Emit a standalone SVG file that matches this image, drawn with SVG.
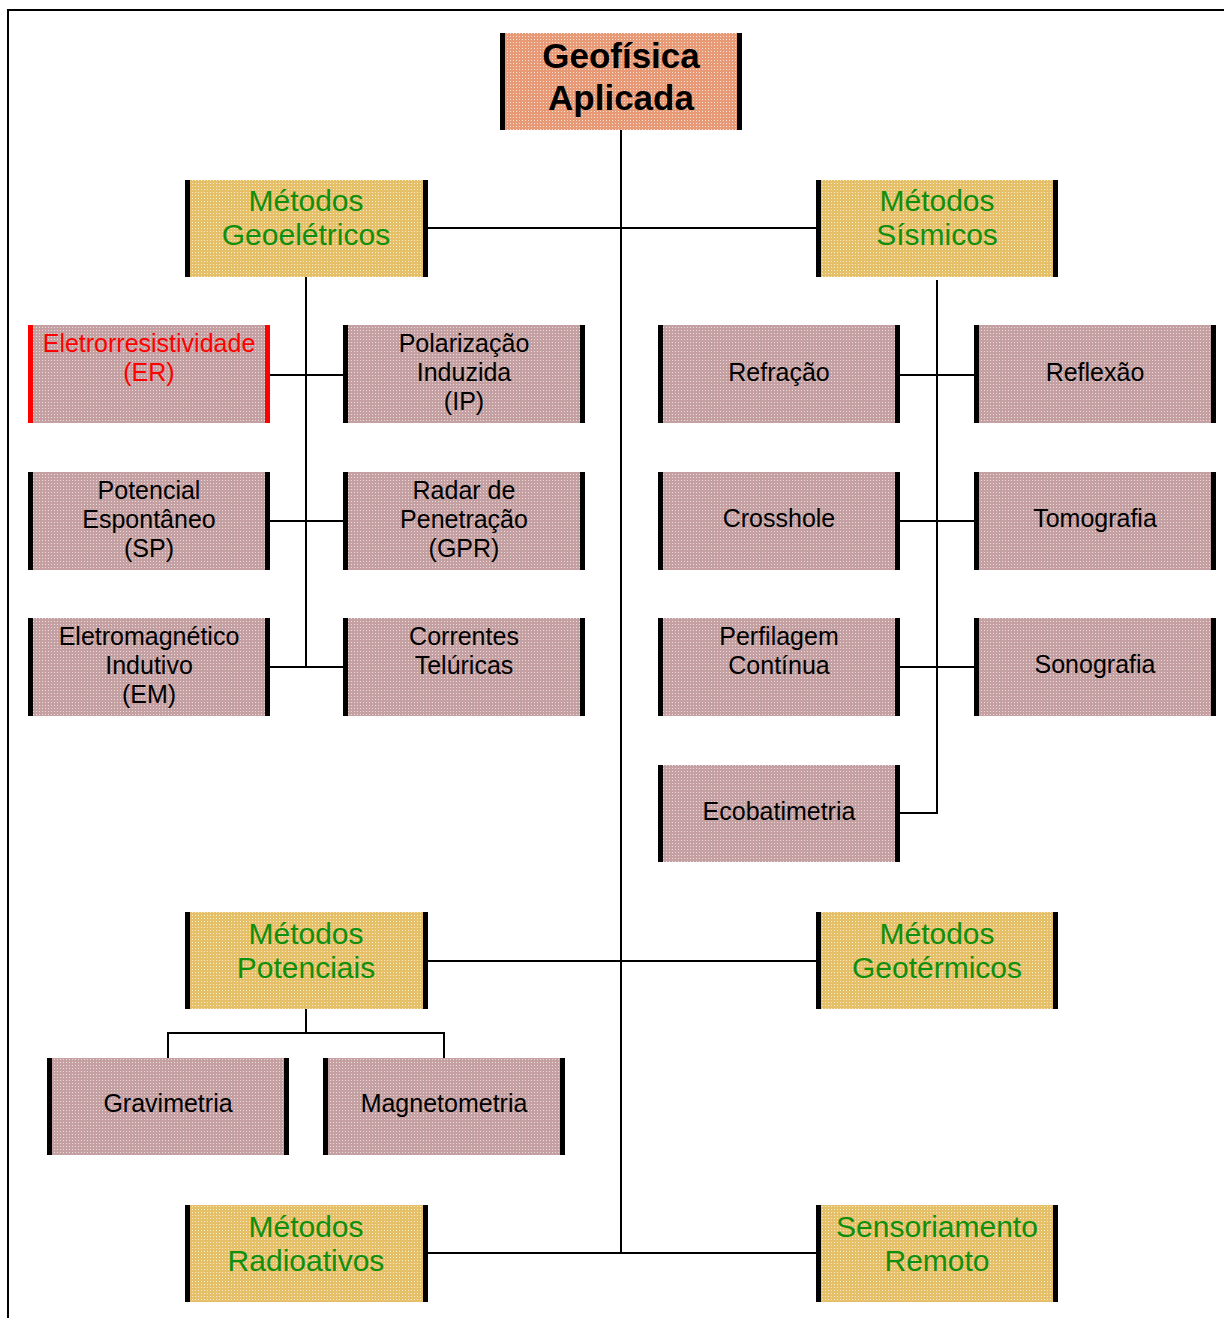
<svg xmlns="http://www.w3.org/2000/svg" width="1224" height="1318" viewBox="0 0 1224 1318">
<defs>
<pattern id="pPink" width="3" height="3" patternUnits="userSpaceOnUse">
<rect width="3" height="3" fill="#c4a0a2"/>
<rect width="1" height="1" fill="#ebdcdc"/>
</pattern>
<pattern id="pYel" width="3" height="3" patternUnits="userSpaceOnUse">
<rect width="3" height="3" fill="#e6c068"/>
<rect width="1" height="1" fill="#f7eccc"/>
</pattern>
<pattern id="pSal" width="3" height="3" patternUnits="userSpaceOnUse">
<rect width="3" height="3" fill="#e89a76"/>
<rect width="1" height="1" fill="#fae2d6"/>
</pattern>
</defs>
<style>
.pink{fill:url(#pPink)}
.yel{fill:url(#pYel)}
.sal{fill:url(#pSal)}
.bar{fill:#000}
.rbar{fill:#ff0000}
.t{font-family:"Liberation Sans",Arial,sans-serif;font-size:25px;fill:#000;text-anchor:middle}
.tr{font-family:"Liberation Sans",Arial,sans-serif;font-size:25px;fill:#ff0000;text-anchor:middle}
.tg{font-family:"Liberation Sans",Arial,sans-serif;font-size:30px;fill:#0f8f0f;text-anchor:middle}
.tb{font-family:"Liberation Sans",Arial,sans-serif;font-size:35px;font-weight:bold;fill:#000;text-anchor:middle}
.ln{stroke:#000;stroke-width:2;fill:none}
</style>
<rect width="1224" height="1318" fill="#fff"/>
<path d="M8,1318 V10 H1224" stroke="#000" stroke-width="2" fill="none"/>

<g id="connectors">
<path class="ln" d="M621,130 V1253"/>
<path class="ln" d="M428,228 H816"/>
<path class="ln" d="M428,961 H816"/>
<path class="ln" d="M428,1253 H816"/>
<path class="ln" d="M306,277 V667"/>
<path class="ln" d="M270,375 H343 M270,521 H343 M270,667 H343"/>
<path class="ln" d="M937,280 V813 H900"/>
<path class="ln" d="M900,375 H974 M900,521 H974 M900,667 H974"/>
<path class="ln" d="M306,1009 V1033 M168,1058 V1033 H444 V1058"/>
</g>

<g id="geofisica">
<rect class="sal" x="500" y="33" width="242" height="97"/>
<rect class="bar" x="500" y="33" width="5" height="97"/>
<rect class="bar" x="737" y="33" width="5" height="97"/>
<text class="tb" x="621" y="68">Geofísica</text>
<text class="tb" x="621" y="110">Aplicada</text>
</g>

<g id="geoeletricos">
<rect class="yel" x="185" y="180" width="243" height="97"/>
<rect class="bar" x="185" y="180" width="5" height="97"/>
<rect class="bar" x="423" y="180" width="5" height="97"/>
<text class="tg" x="306" y="211">Métodos</text>
<text class="tg" x="306" y="245">Geoelétricos</text>
</g>

<g id="sismicos">
<rect class="yel" x="816" y="180" width="242" height="97"/>
<rect class="bar" x="816" y="180" width="5" height="97"/>
<rect class="bar" x="1053" y="180" width="5" height="97"/>
<text class="tg" x="937" y="211">Métodos</text>
<text class="tg" x="937" y="245">Sísmicos</text>
</g>

<g id="er">
<rect class="pink" x="28" y="325" width="242" height="98"/>
<rect class="rbar" x="28" y="325" width="5" height="98"/>
<rect class="rbar" x="265" y="325" width="5" height="98"/>
<text class="tr" x="149" y="352">Eletrorresistividade</text>
<text class="tr" x="149" y="381">(ER)</text>
</g>

<g id="ip">
<rect class="pink" x="343" y="325" width="242" height="98"/>
<rect class="bar" x="343" y="325" width="5" height="98"/>
<rect class="bar" x="580" y="325" width="5" height="98"/>
<text class="t" x="464" y="352">Polarização</text>
<text class="t" x="464" y="381">Induzida</text>
<text class="t" x="464" y="410">(IP)</text>
</g>

<g id="sp">
<rect class="pink" x="28" y="472" width="242" height="98"/>
<rect class="bar" x="28" y="472" width="5" height="98"/>
<rect class="bar" x="265" y="472" width="5" height="98"/>
<text class="t" x="149" y="499">Potencial</text>
<text class="t" x="149" y="528">Espontâneo</text>
<text class="t" x="149" y="557">(SP)</text>
</g>

<g id="gpr">
<rect class="pink" x="343" y="472" width="242" height="98"/>
<rect class="bar" x="343" y="472" width="5" height="98"/>
<rect class="bar" x="580" y="472" width="5" height="98"/>
<text class="t" x="464" y="499">Radar de</text>
<text class="t" x="464" y="528">Penetração</text>
<text class="t" x="464" y="557">(GPR)</text>
</g>

<g id="em">
<rect class="pink" x="28" y="618" width="242" height="98"/>
<rect class="bar" x="28" y="618" width="5" height="98"/>
<rect class="bar" x="265" y="618" width="5" height="98"/>
<text class="t" x="149" y="645">Eletromagnético</text>
<text class="t" x="149" y="674">Indutivo</text>
<text class="t" x="149" y="703">(EM)</text>
</g>

<g id="teluricas">
<rect class="pink" x="343" y="618" width="242" height="98"/>
<rect class="bar" x="343" y="618" width="5" height="98"/>
<rect class="bar" x="580" y="618" width="5" height="98"/>
<text class="t" x="464" y="645">Correntes</text>
<text class="t" x="464" y="674">Telúricas</text>
</g>

<g id="refracao">
<rect class="pink" x="658" y="325" width="242" height="98"/>
<rect class="bar" x="658" y="325" width="5" height="98"/>
<rect class="bar" x="895" y="325" width="5" height="98"/>
<text class="t" x="779" y="381">Refração</text>
</g>

<g id="reflexao">
<rect class="pink" x="974" y="325" width="242" height="98"/>
<rect class="bar" x="974" y="325" width="5" height="98"/>
<rect class="bar" x="1211" y="325" width="5" height="98"/>
<text class="t" x="1095" y="381">Reflexão</text>
</g>

<g id="crosshole">
<rect class="pink" x="658" y="472" width="242" height="98"/>
<rect class="bar" x="658" y="472" width="5" height="98"/>
<rect class="bar" x="895" y="472" width="5" height="98"/>
<text class="t" x="779" y="527">Crosshole</text>
</g>

<g id="tomografia">
<rect class="pink" x="974" y="472" width="242" height="98"/>
<rect class="bar" x="974" y="472" width="5" height="98"/>
<rect class="bar" x="1211" y="472" width="5" height="98"/>
<text class="t" x="1095" y="527">Tomografia</text>
</g>

<g id="perfilagem">
<rect class="pink" x="658" y="618" width="242" height="98"/>
<rect class="bar" x="658" y="618" width="5" height="98"/>
<rect class="bar" x="895" y="618" width="5" height="98"/>
<text class="t" x="779" y="645">Perfilagem</text>
<text class="t" x="779" y="674">Contínua</text>
</g>

<g id="sonografia">
<rect class="pink" x="974" y="618" width="242" height="98"/>
<rect class="bar" x="974" y="618" width="5" height="98"/>
<rect class="bar" x="1211" y="618" width="5" height="98"/>
<text class="t" x="1095" y="673">Sonografia</text>
</g>

<g id="ecobatimetria">
<rect class="pink" x="658" y="765" width="242" height="97"/>
<rect class="bar" x="658" y="765" width="5" height="97"/>
<rect class="bar" x="895" y="765" width="5" height="97"/>
<text class="t" x="779" y="820">Ecobatimetria</text>
</g>

<g id="potenciais">
<rect class="yel" x="185" y="912" width="243" height="97"/>
<rect class="bar" x="185" y="912" width="5" height="97"/>
<rect class="bar" x="423" y="912" width="5" height="97"/>
<text class="tg" x="306" y="944">Métodos</text>
<text class="tg" x="306" y="978">Potenciais</text>
</g>

<g id="geotermicos">
<rect class="yel" x="816" y="912" width="242" height="97"/>
<rect class="bar" x="816" y="912" width="5" height="97"/>
<rect class="bar" x="1053" y="912" width="5" height="97"/>
<text class="tg" x="937" y="944">Métodos</text>
<text class="tg" x="937" y="978">Geotérmicos</text>
</g>

<g id="gravimetria">
<rect class="pink" x="47" y="1058" width="242" height="97"/>
<rect class="bar" x="47" y="1058" width="5" height="97"/>
<rect class="bar" x="284" y="1058" width="5" height="97"/>
<text class="t" x="168" y="1112">Gravimetria</text>
</g>

<g id="magnetometria">
<rect class="pink" x="323" y="1058" width="242" height="97"/>
<rect class="bar" x="323" y="1058" width="5" height="97"/>
<rect class="bar" x="560" y="1058" width="5" height="97"/>
<text class="t" x="444" y="1112">Magnetometria</text>
</g>

<g id="radioativos">
<rect class="yel" x="185" y="1205" width="243" height="97"/>
<rect class="bar" x="185" y="1205" width="5" height="97"/>
<rect class="bar" x="423" y="1205" width="5" height="97"/>
<text class="tg" x="306" y="1237">Métodos</text>
<text class="tg" x="306" y="1271">Radioativos</text>
</g>

<g id="sensoriamento">
<rect class="yel" x="816" y="1205" width="242" height="97"/>
<rect class="bar" x="816" y="1205" width="5" height="97"/>
<rect class="bar" x="1053" y="1205" width="5" height="97"/>
<text class="tg" x="937" y="1237">Sensoriamento</text>
<text class="tg" x="937" y="1271">Remoto</text>
</g>
</svg>
